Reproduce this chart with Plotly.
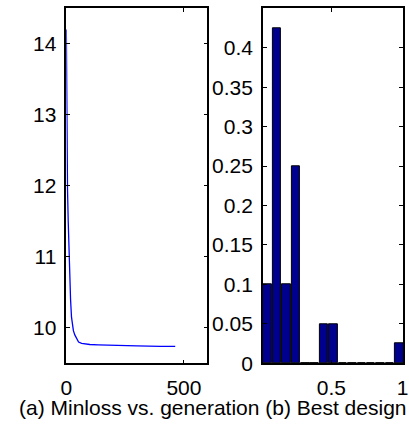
import plotly.graph_objects as go

# ---- data ----
generation = [0, 1, 2, 3, 5, 8, 11, 14, 18, 22, 25, 30, 36, 44, 52, 65, 80, 100, 135, 200, 300, 400, 463]
minloss = [14.2, 13.5, 12.9, 12.4, 11.95, 11.5, 11.1, 10.75, 10.4, 10.15, 10.04, 9.96, 9.90, 9.84,
           9.80, 9.78, 9.77, 9.765, 9.76, 9.75, 9.745, 9.74, 9.74]

bin_centers = [0.053, 0.119, 0.185, 0.251, 0.317, 0.383, 0.449, 0.515, 0.581, 0.647, 0.713,
               0.779, 0.845, 0.911, 0.977]
frequency = [0.1, 0.425, 0.1, 0.25, 0, 0, 0.05, 0.05, 0, 0, 0, 0, 0, 0, 0.025]

left_yticks = [10, 11, 12, 13, 14]
left_xticks = [0, 500]
right_yticks = [0, 0.05, 0.1, 0.15, 0.2, 0.25, 0.3, 0.35, 0.4]
right_yticklabels = ["0", "0.05", "0.1", "0.15", "0.2", "0.25", "0.3", "0.35", "0.4"]
right_xticks = [0.5, 1]
right_xticklabels = ["0.5", "1"]
caption = "(a) Minloss vs. generation (b) Best design"

FONT = "Liberation Sans, Arial, sans-serif"
W, H = 409, 437

fig = go.Figure()
fig.add_trace(go.Scatter(x=generation, y=minloss, mode="lines",
                         line=dict(color="#0000FF", width=1.3),
                         xaxis="x", yaxis="y", showlegend=False))
fig.add_trace(go.Bar(x=bin_centers, y=frequency, width=0.06,
                     marker=dict(color="#00008F", line=dict(color="#000000", width=1)),
                     xaxis="x2", yaxis="y2", showlegend=False))

ydom = [(H - 372.7) / H, (H - 8.5) / H]
common = dict(showgrid=False, zeroline=False, showline=True, linecolor="black", linewidth=1.5,
              mirror="ticks", ticks="inside", ticklen=4, tickwidth=1, tickcolor="black",
              tickfont=dict(family=FONT, size=21, color="black"))

fig.update_layout(
    width=W, height=H,
    margin=dict(l=0, r=0, t=0, b=0),
    paper_bgcolor="white", plot_bgcolor="white",
    font=dict(family=FONT, size=21, color="black"),
    bargap=0,
    xaxis=dict(domain=[62 / W, 207 / W], range=[0, 600], tickvals=left_xticks,
               anchor="y", ticklabelstandoff=5, **common),
    yaxis=dict(domain=ydom, range=[9.5, 14.5], tickvals=left_yticks,
               anchor="x", ticklabelstandoff=4, **common),
    xaxis2=dict(domain=[264 / W, 408 / W], range=[0.02, 1.003], tickvals=right_xticks,
                ticktext=right_xticklabels, anchor="y2", ticklabelstandoff=5,
                ticklabeloverflow="allow", **common),
    yaxis2=dict(domain=ydom, range=[0, 0.45], tickvals=right_yticks,
                ticktext=right_yticklabels, anchor="x2", ticklabelstandoff=4, **common),
    annotations=[dict(text=caption, xref="paper", yref="paper", x=11 / W, y=(H - 418) / H,
                      xanchor="left", yanchor="middle", showarrow=False,
                      font=dict(family=FONT, size=21, color="black"))],
)

page_css = (
    "var gd=document.getElementById('{plot_id}');"
    "gd.style.position='fixed';gd.style.left='0px';gd.style.top='0px';"
    "document.body.style.margin='0';document.body.style.overflow='hidden';"
    "document.documentElement.style.overflow='hidden';"
)

fig.write_html("out.html", config={"displayModeBar": False, "responsive": False},
               post_script=page_css)
